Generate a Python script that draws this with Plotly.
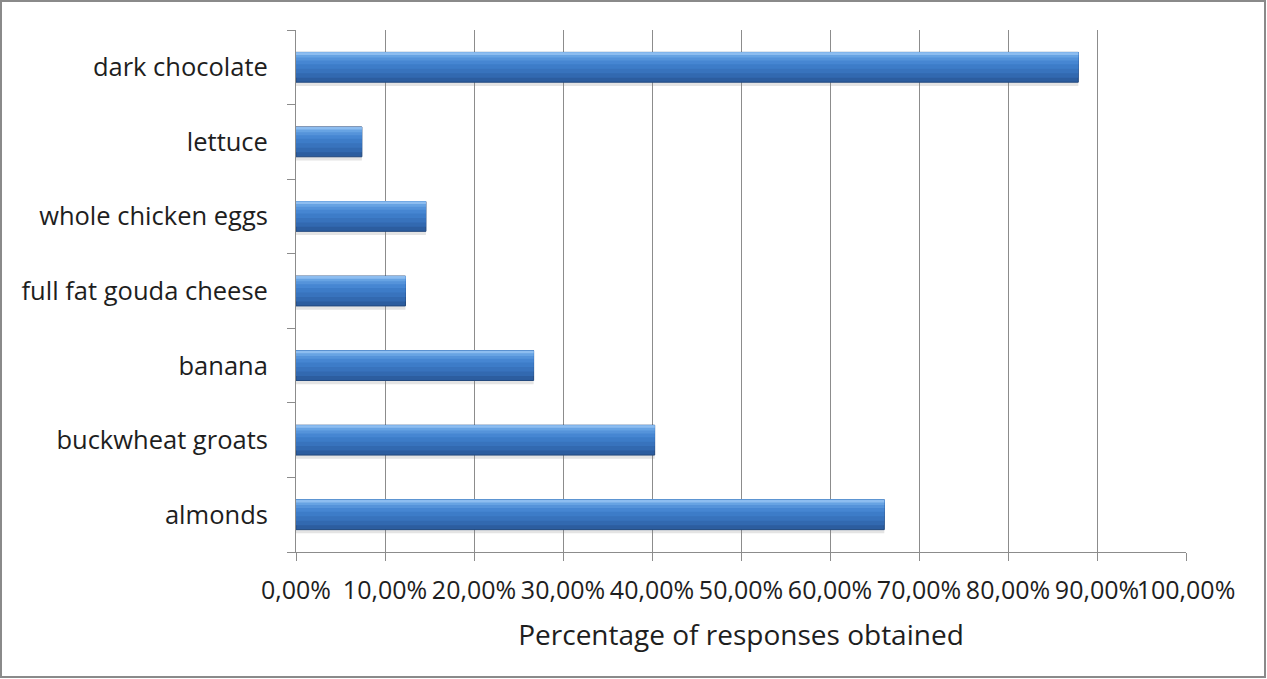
import plotly.graph_objects as go

# Survey results: share of respondents naming each food
foods = ["almonds", "buckwheat groats", "banana", "full fat gouda cheese",
         "whole chicken eggs", "lettuce", "dark chocolate"]
shares = [66.1, 40.3, 26.7, 12.3, 14.6, 7.4, 87.9]

x_ticks = list(range(0, 101, 10))
x_tick_text = [f"{v:.2f}".replace(".", ",") + "%" for v in x_ticks]

FONT = "'Open Sans', sans-serif"

fig = go.Figure()

# soft drop shadow under each bar
fig.add_trace(go.Bar(
    y=foods, x=shares, orientation="h", width=0.42, offset=-0.25,
    marker=dict(color="rgba(130,130,130,0.22)", line=dict(width=0)),
    hoverinfo="skip", showlegend=False,
))

# bar body built from stacked layers anchored at the top edge,
# each narrower layer a little lighter -> vertical gradient
TOP = 0.20
layers = [
    (0.40, "#2c5d9f", dict(color="#22487d", width=1)),
    (0.34, "#3269b0", None),
    (0.28, "#3873bd", None),
    (0.22, "#3d7cc8", None),
    (0.16, "#4686d2", None),
    (0.11, "#5593da", None),
    (0.07, "#67a3e3", None),
    (0.035, "#8dbdf0", None),
]
for w, col, ln in layers:
    fig.add_trace(go.Bar(
        y=foods, x=shares, orientation="h", width=w, offset=TOP - w,
        marker=dict(color=col, line=ln if ln else dict(width=0)),
        hoverinfo="skip" if ln is None else None, showlegend=False,
    ))

fig.update_layout(
    width=1267, height=679,
    barmode="overlay",
    paper_bgcolor="white", plot_bgcolor="white",
    margin=dict(l=296, r=81, t=30, b=127),
    font=dict(family=FONT, size=25.5, color="#1e1e1e"),
    xaxis=dict(
        range=[0, 100], tickvals=x_ticks, ticktext=x_tick_text,
        tickangle=0, automargin=False,
        showgrid=True, gridcolor="#8c8c8c", gridwidth=1,
        showline=True, linecolor="#8c8c8c", linewidth=1,
        ticks="outside", ticklen=8, tickcolor="#8c8c8c",
        ticklabelstandoff=8,
        tickfont=dict(size=25, family=FONT), zeroline=False,
        title=dict(text="Percentage of responses obtained",
                   font=dict(size=28, family=FONT), standoff=20),
    ),
    yaxis=dict(
        categoryorder="array", categoryarray=foods,
        automargin=False,
        showline=True, linecolor="#8c8c8c", linewidth=1,
        ticks="outside", ticklen=8, tickcolor="#8c8c8c",
        tickson="boundaries", ticklabelstandoff=22,
        tickfont=dict(size=25.5, family=FONT), showgrid=False,
    ),
    shapes=[dict(
        type="rect", xref="paper", yref="paper",
        x0=(1 - 296) / 890, x1=(1265 - 296) / 890,
        y0=(552 - 677) / 522, y1=(552 - 1) / 522,
        line=dict(color="#8a8a8a", width=2), layer="below",
    )],
)

fig.write_html("out.html")
